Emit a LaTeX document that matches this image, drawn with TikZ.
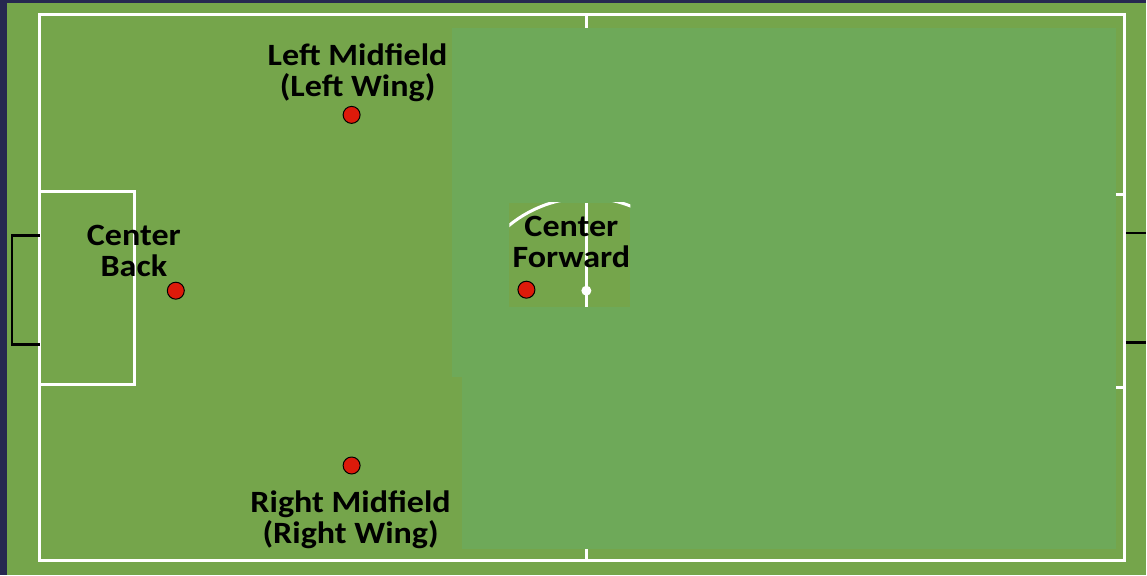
\documentclass[tikz,border=0pt]{standalone}
\usepackage{fontspec}
\setmainfont{Carlito}[FakeStretch=1.1]
\usetikzlibrary{positioning}
\definecolor{navy}{HTML}{262850}
\definecolor{turf}{HTML}{75A54B}
\definecolor{turflight}{HTML}{6EA959}
\definecolor{dotred}{HTML}{DD1A0A}

\begin{document}
\begin{tikzpicture}[x=1pt,y=-1pt,
 line/.style={draw=white,line width=3pt},
 goal/.style={draw=black,line width=2.5pt},
 player/.style={circle,draw=black,fill=dotred,line width=1pt,minimum size=17pt,inner sep=0pt},
 lbl/.style={align=center,font=\fontsize{31}{31}\selectfont\bfseries,inner sep=0pt}]
% background and turf
\fill[navy] (0,0) rectangle (1147,576);
\fill[turf] (7,3) rectangle (1147,576);
\fill[turflight] (452,28) rectangle (1117,377);
\fill[turflight] (462,377) rectangle (1117,550);
\fill[turf] (510,203) rectangle (631,307);
% field lines
\draw[line] (40,15) rectangle (1126,561);
\draw[line] (40,192) rectangle (135,385);
\draw[line] (587,15)--(587,28);
\draw[line] (587,550)--(587,561);
\draw[line] (1117,195)--(1126,195);
\draw[line] (1117,388)--(1126,388);
\begin{scope}
\clip (510,203) rectangle (631,307);
\draw[line] (587,320) circle[radius=122];
\draw[line] (587,203)--(587,307);
\end{scope}
\fill[white] (587,291) circle[radius=5];
% goals
\draw[goal] (40,236)--(12,236)--(12,345)--(40,345);
\draw[goal] (1127,233)--(1147,233);
\draw[goal] (1127,343)--(1147,343);
% players
\node[player] (lm) at (352,115) {};
\node[player] (cb) at (176,291) {};
\node[player] (cf) at (527,290) {};
\node[player] (rm) at (352,466) {};
\node[lbl] (lmLbl) at (358,73) {Left Midfield\\(Left Wing)};
\node[lbl] (cbLbl) at (134,251) {Center\\Back};
\node[lbl] (cfLbl) at (572,242) {Center\\Forward};
\node[lbl] (rmLbl) at (351,520) {Right Midfield\\(Right Wing)};
\end{tikzpicture}
\end{document}
